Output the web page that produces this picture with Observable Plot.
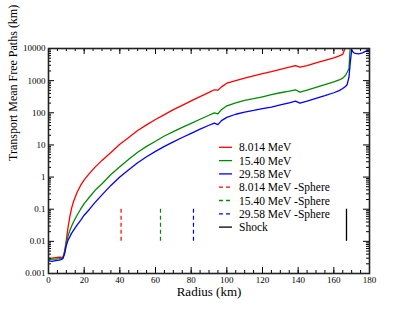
<!DOCTYPE html>
<html><head><meta charset="utf-8">
<script src="https://cdn.jsdelivr.net/npm/d3@7"></script>
<script src="https://cdn.jsdelivr.net/npm/@observablehq/plot@0.6"></script>
<style>
body{margin:0;background:#fff;}
#wrap{position:relative;width:415px;height:321px;}
#legend{position:absolute;left:0;top:0;pointer-events:none;}
</style></head><body><div id="wrap"></div>
<script>
// ---- data ----
const radius = [0,2,4,6,7,8,9,10,11,12,13,14,16,18,20,23,26,30,35,40,45,50,55,60,65,70,75,80,85,90,93,95,97,100,105,110,115,120,125,130,135,138.5,141,145,150,155,160,163,165,166.5,167.5,168.5,169.3,170,171,172,174,176,178,180];
const mfp8 = [0.0029,0.0030,0.0031,0.0032,0.0032,0.0031,0.0048,0.011,0.028,0.06,0.11,0.17,0.33,0.55,0.82,1.3,2.0,3.3,5.8,10.5,17,28,42,62,88,125,170,235,320,430,520,505,640,830,1000,1200,1400,1650,1900,2250,2650,2950,2620,2950,3600,4300,5100,5900,6600,10500,15000,15000,15000,15000,15000,15000,15000,15000,15000,15000];
const mfp15 = [0.0027,0.0028,0.0028,0.0029,0.0030,0.0030,0.0045,0.0090,0.015,0.022,0.030,0.040,0.065,0.10,0.15,0.24,0.38,0.62,1.2,2.1,3.6,5.9,9.0,13,19,26,35,47,63,84,100,93,125,165,205,245,275,315,365,420,470,520,440,510,620,750,920,1050,1200,1450,1820,2400,15000,15000,15000,15000,15000,15000,15000,15000];
const mfp29 = [0.0025,0.0024,0.0025,0.0026,0.0027,0.0029,0.0040,0.0075,0.011,0.014,0.018,0.022,0.032,0.045,0.065,0.10,0.16,0.28,0.55,1.0,1.7,2.8,4.3,6.3,9.0,12.5,17,23,31,41,48,43,57,72,90,105,118,135,150,175,205,230,200,230,280,340,420,490,570,660,760,1300,4000,9000,7500,7000,6800,7300,8300,9000];
const seriesNames = ["8.014 MeV","15.40 MeV","29.58 MeV"];
const seriesColors = ["#ff0000","#008b00","#0000ff"];
const sphereRadius = [40.7, 62.8, 81.3];
const markerRange = [0.01, 0.1];
const shockRadius = [167.1];
const legendLabels = ["8.014 MeV","15.40 MeV","29.58 MeV","8.014 MeV -Sphere","15.40 MeV -Sphere","29.58 MeV -Sphere","Shock"];
const legendColors = ["#ff0000","#008b00","#0000ff","#ff0000","#008b00","#0000ff","#000000"];
const legendDashed = [false,false,false,true,true,true,false];
const xTicks = [0,20,40,60,80,100,120,140,160,180];
const xMinor = d3.range(0,181,5);
const yTicks = [0.001,0.01,0.1,1,10,100,1000,10000];
const yMinor = yTicks.slice(0,-1).flatMap(d => [2,3,4,5,6,7,8,9].map(k => k*d));
const xLabel = "Radius (km)";
const yLabel = "Transport Mean Free Paths (km)";

// ---- table ----
const FONT = 'Times, "Times New Roman", "Liberation Serif", "DejaVu Serif", serif';
const allSeries = [mfp8, mfp15, mfp29];
const lines = allSeries.flatMap((vals, i) => radius.map((r, j) => ({r, v: vals[j], s: seriesNames[i]})));
const spheres = sphereRadius.map((r, i) => ({r, s: seriesNames[i]}));

const W = 415, H = 321, mL = 48, mR = 46, mT = 48, mB = 48;
const innerW = W - mL - mR, innerH = H - mT - mB;
const major = 6, minor = 3;

const chart = Plot.plot({
  width: W, height: H,
  marginLeft: mL, marginRight: mR, marginTop: mT, marginBottom: mB,
  style: {fontFamily: FONT, fontSize: "9px", background: "#fff", color: "#000"},
  x: {domain: [0, 180], label: null},
  y: {type: "log", domain: [0.001, 10000], label: null},
  color: {domain: seriesNames, range: seriesColors},
  marks: [
    Plot.line(lines, {x: "r", y: "v", z: "s", stroke: "s", strokeWidth: 1.3, clip: true}),
    Plot.ruleX(spheres, {x: "r", y1: markerRange[0], y2: markerRange[1], stroke: "s", strokeWidth: 1.2, strokeDasharray: "4,3"}),
    Plot.ruleX(shockRadius, {x: d => d, y1: markerRange[0], y2: markerRange[1], stroke: "#000", strokeWidth: 1.3}),
    Plot.tickX(xMinor, {x: d => d, insetTop: innerH - minor, stroke: "#000"}),
    Plot.tickX(xMinor, {x: d => d, insetBottom: innerH - minor, stroke: "#000"}),
    Plot.tickX(xTicks, {x: d => d, insetTop: innerH - major, stroke: "#000"}),
    Plot.tickX(xTicks, {x: d => d, insetBottom: innerH - major, stroke: "#000"}),
    Plot.tickY(yMinor, {y: d => d, insetRight: innerW - minor, stroke: "#000"}),
    Plot.tickY(yMinor, {y: d => d, insetLeft: innerW - minor, stroke: "#000"}),
    Plot.tickY(yTicks, {y: d => d, insetRight: innerW - major, stroke: "#000"}),
    Plot.tickY(yTicks, {y: d => d, insetLeft: innerW - major, stroke: "#000"}),
    Plot.frame({stroke: "#222", strokeWidth: 1.6}),
    Plot.axisX(xTicks, {tickSize: 0, tickPadding: 3, fontSize: 9, fontFamily: FONT, label: null}),
    Plot.axisY(yTicks, {tickSize: 0, tickPadding: 3, fontSize: 9, fontFamily: FONT, label: null, tickFormat: d => String(d)}),
    Plot.text([xLabel], {frameAnchor: "bottom", dy: 22, text: d => d, fontSize: 13, fontFamily: FONT}),
    Plot.text([yLabel], {frameAnchor: "left", dx: -35, rotate: -90, text: d => d, fontSize: 12, fontFamily: FONT})
  ]
});
const wrap = document.getElementById("wrap");
wrap.appendChild(chart);

// ---- legend (overlay) ----
const leg = d3.select(wrap).append("svg").attr("id", "legend").attr("width", W).attr("height", H);
const lx0 = 219, lx1 = 232, tx = 239, ly0 = 147.3, lstep = 13.3;
legendLabels.forEach((lab, i) => {
  const y = ly0 + i * lstep;
  leg.append("line").attr("x1", lx0).attr("x2", lx1).attr("y1", y).attr("y2", y)
    .attr("stroke", legendColors[i]).attr("stroke-width", 1.3)
    .attr("stroke-dasharray", legendDashed[i] ? "4,3" : null);
  leg.append("text").attr("x", tx).attr("y", y).attr("dy", "0.35em")
    .attr("font-family", FONT).attr("font-size", 11.5)
    .attr("fill", "#000").text(lab);
});
</script></body></html>
